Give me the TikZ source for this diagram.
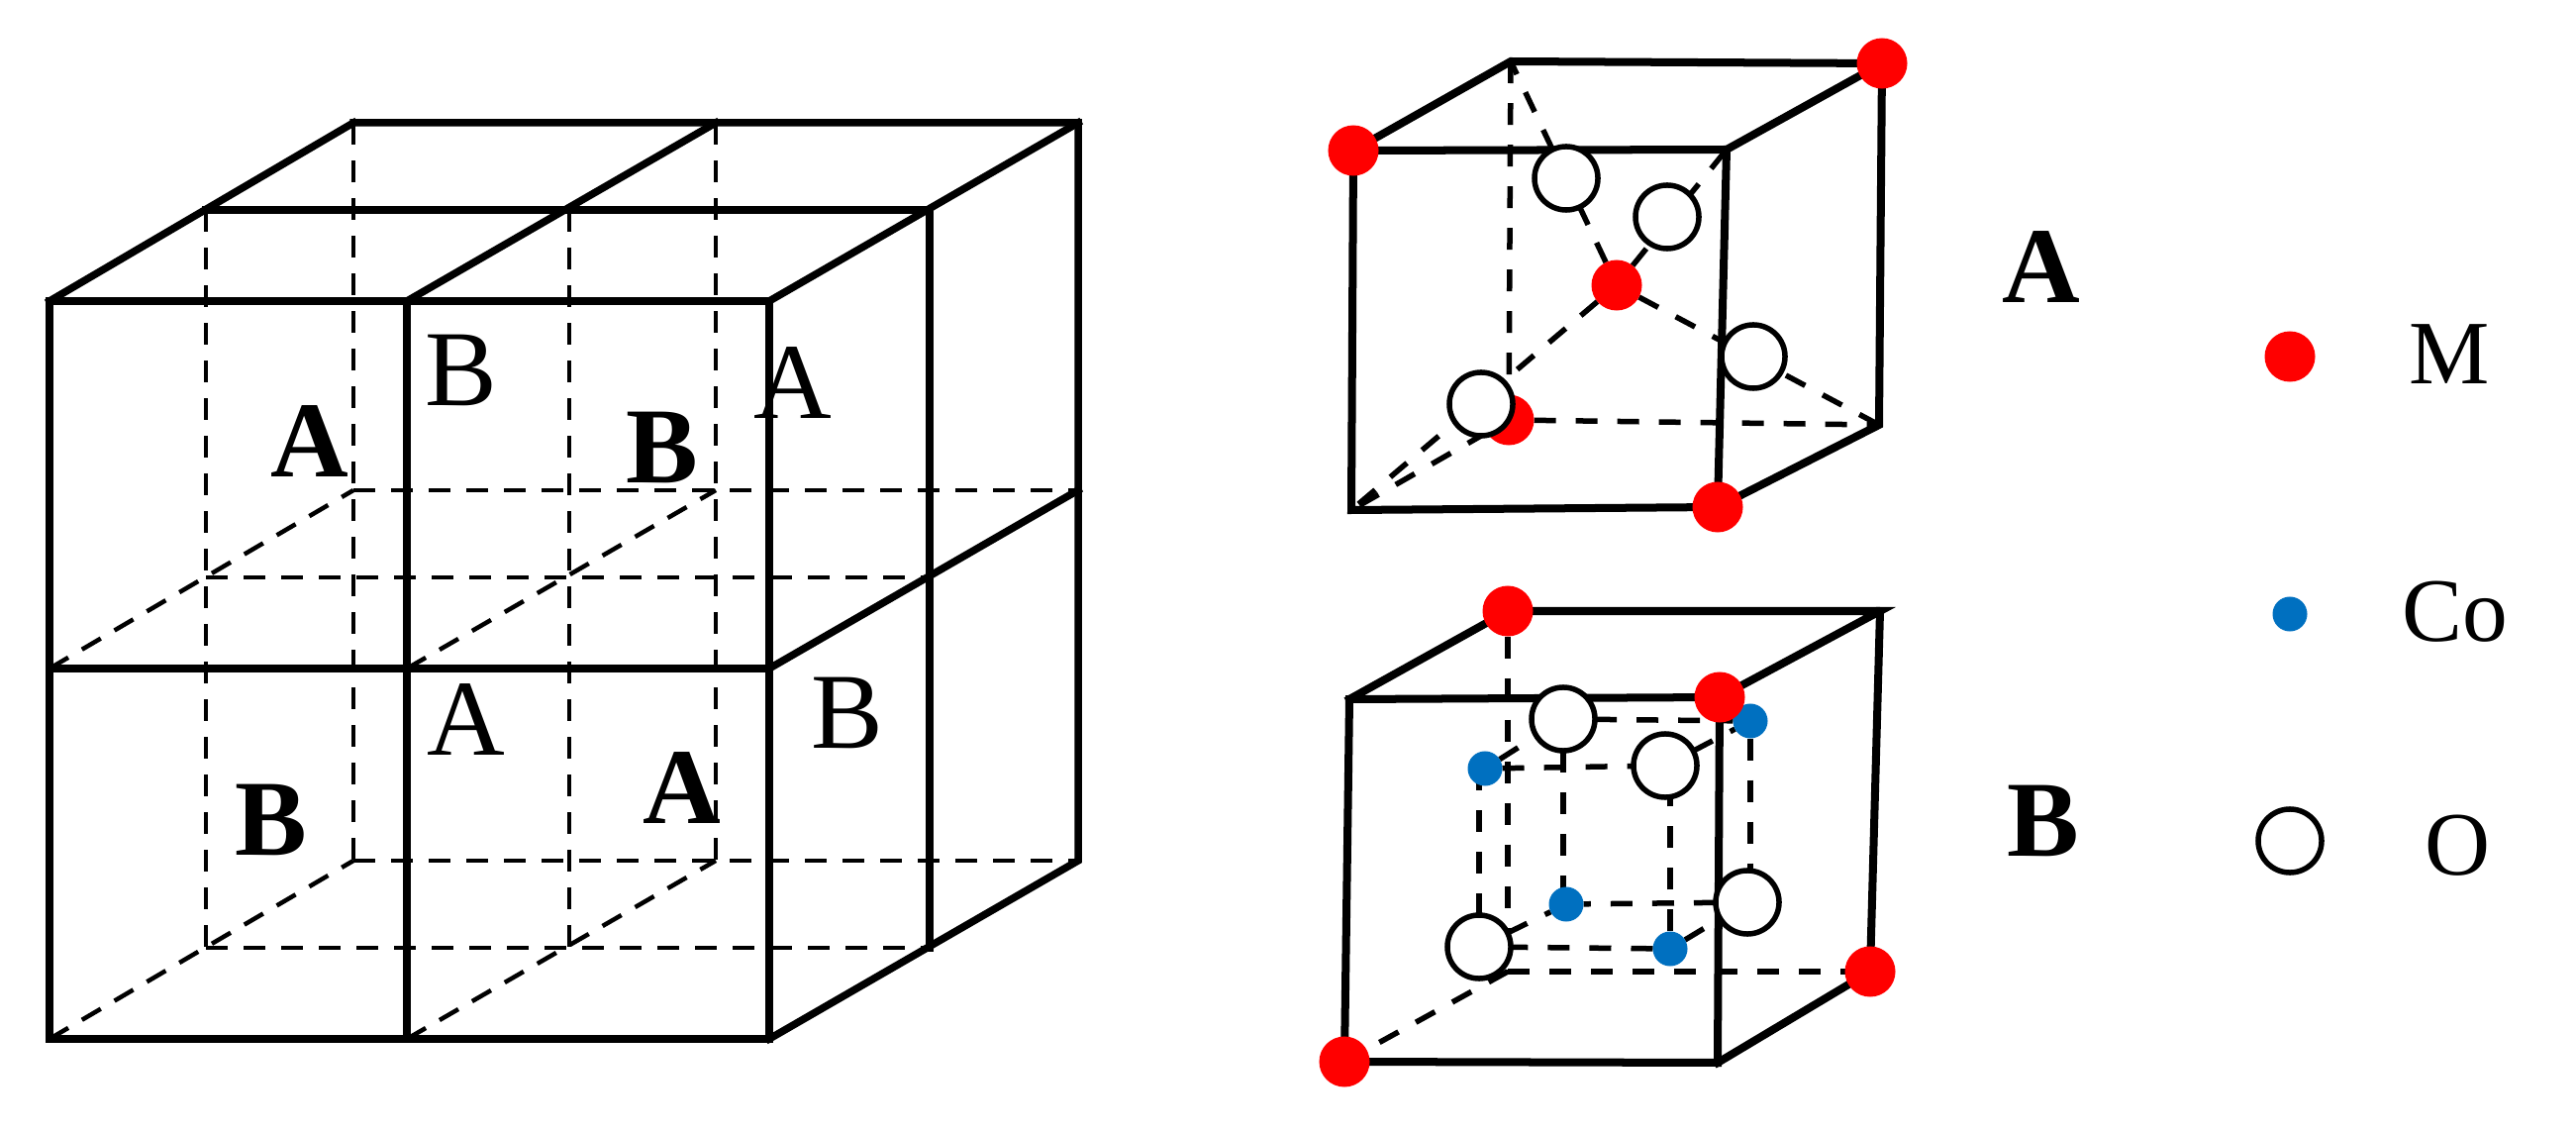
\documentclass[tikz,border=0pt]{standalone}
\usepackage{fontspec}
\setmainfont{Liberation Serif}
\usetikzlibrary{backgrounds}
\definecolor{Mred}{RGB}{255,0,0}
\definecolor{Coblue}{RGB}{0,112,192}
\tikzset{
  bigedge/.style={line width=0.075cm,line join=miter,line cap=rect},
  bighidden/.style={line width=0.045cm,dash pattern=on 0.22cm off 0.16cm},
  celledge/.style={line width=0.08cm,line join=miter,line cap=rect},
  cellhidden/.style={line width=0.055cm,dash pattern=on 0.22cm off 0.2cm},
  atomM/.style={circle,fill=Mred,inner sep=0pt,outer sep=0pt,minimum size=0.51cm},
  atomCo/.style={circle,fill=Coblue,inner sep=0pt,outer sep=0pt,minimum size=0.35cm},
  atomO/.style={circle,draw,fill=white,line width=0.055cm,inner sep=0pt,outer sep=0pt,minimum size=0.64cm},
  plainlabel/.style={inner sep=0pt,font=\fontsize{31}{34}\selectfont},
  boldlabel/.style={inner sep=0pt,font=\fontsize{31}{34}\selectfont\bfseries},
  keylabel/.style={inner sep=0pt,font=\fontsize{26}{30}\selectfont}
}
\newcommand{\drawbig}{\draw[bigedge]}
\newcommand{\drawbighidden}{\draw[bighidden]}
\newcommand{\drawcell}{\draw[celledge]}
\newcommand{\drawcellhidden}{\draw[cellhidden]}
\begin{document}
\begin{tikzpicture}[x=0.01cm,y=-0.01cm]
\useasboundingbox (0,0) rectangle (2602,1146);
\foreach \c/\x/\dx/\ddx in {0/50/158/307,1/411/164/312,2/777/162/312}{
  \foreach \r/\y in {t/304,m/675,b/1049}{
    \coordinate (g\c-\r-0) at (\x,\y);
    \coordinate (g\c-\r-1) at (\x+\dx,\y-92);
    \coordinate (g\c-\r-2) at (\x+\ddx,\y-180);
  }
}
\foreach \c in {0,1}{
  \foreach \d in {1,2}{
    \drawbighidden (g\c-t-\d)--(g\c-b-\d);
  }
  \drawbighidden (g\c-m-0)--(g\c-m-2);
  \drawbighidden (g\c-b-0)--(g\c-b-2);
}
\foreach \d in {1,2}{
  \drawbighidden (g0-m-\d)--(g2-m-\d);
  \drawbighidden (g0-b-\d)--(g2-b-\d);
}
\drawbig (g0-t-0)--(g2-t-0)--(g2-b-0)--(g0-b-0)--cycle;
\drawbig (g1-t-0)--(g1-b-0);
\drawbig (g0-m-0)--(g2-m-0);
\foreach \c in {0,1,2}{
  \drawbig (g\c-t-0)--(g\c-t-2);
}
\drawbig (g0-t-1)--(g2-t-1)--(g2-b-1);
\drawbig (g0-t-2)--(g2-t-2)--(g2-b-2)--(g2-b-0);
\drawbig (g2-m-0)--(g2-m-2);
\node[boldlabel] (bigA1) at (313,446) {A};
\node[boldlabel] (bigB1) at (669,452) {B};
\node[boldlabel] (bigB2) at (274,828) {B};
\node[boldlabel] (bigA2) at (689,796) {A};
\node[plainlabel] (bigB3) at (466,374) {B};
\node[plainlabel] (bigA3) at (801,387) {A};
\node[plainlabel] (bigA4) at (471,727) {A};
\node[plainlabel] (bigB4) at (856,720) {B};

\coordinate (aFTR) at (1744,151);
\coordinate (aFBL) at (1365,515);
\coordinate (aBTL) at (1526,62);
\coordinate (aBBR) at (1898,429);
\node[atomM] (aFTL) at (1367,152) {};
\node[atomM] (aBTR) at (1901,64) {};
\node[atomM] (aFBR) at (1735,512) {};
\node[atomM] (aBBL) at (1524,424) {};
\node[atomM] (aMid) at (1633,288) {};
\node[atomO] (aO1) at (1582,180) {};
\node[atomO] (aO2) at (1684,219) {};
\node[atomO] (aO3) at (1771,360) {};
\node[atomO] (aO4) at (1496,408) {};
\begin{scope}[on background layer]
\drawcell (aFTL.center)--(aFTR)--(aFBR.center)--(aFBL)--cycle;
\drawcell (aFTL.center)--(aBTL)--(aBTR.center)--(aFTR);
\drawcell (aBTR.center)--(aBBR)--(aFBR.center);
\drawcellhidden (aBTL)--(aBBL);
\drawcellhidden (aBBL)--(aBBR);
\drawcellhidden (aBBL)--(aFBL);
\foreach \e in {aBTL,aBBR,aFBL,aFTR}{
  \drawcellhidden (aMid)--(\e);
}
\end{scope}

\coordinate (bFTL) at (1363,706);
\coordinate (bFBR) at (1735,1073);
\coordinate (bBTR) at (1899,617);
\coordinate (bBBL) at (1523,981);
\node[atomCo] (bCo1) at (1500,776) {};
\node[atomCo] (bCo2) at (1768,728) {};
\node[atomCo] (bCo3) at (1582,913) {};
\node[atomCo] (bCo4) at (1687,958) {};
\node[atomM] (bBTL) at (1523,617) {};
\node[atomM] (bFTR) at (1737,704) {};
\node[atomM] (bBBR) at (1889,981) {};
\node[atomM] (bFBL) at (1358,1072) {};
\node[atomO] (bO1) at (1579,726) {};
\node[atomO] (bO2) at (1682,773) {};
\node[atomO] (bO3) at (1765,911) {};
\node[atomO] (bO4) at (1494,956) {};
\begin{scope}[on background layer]
\drawcell (bFTL)--(bFTR.center)--(bFBR)--(bFBL.center)--cycle;
\drawcell (bFTL)--(bBTL.center)--(bBTR)--(bFTR.center);
\drawcell (bBTR)--(bBBR.center)--(bFBR);
\drawcellhidden (bBTL)--(bBBL);
\drawcellhidden (bBBL)--(bBBR);
\drawcellhidden (bBBL)--(bFBL);
\foreach \s/\e in {bCo1/bO2,bCo4/bO4,bO1/bCo2,bO3/bCo3,bCo1/bO1,bO2/bCo2,bO4/bCo3,bCo4/bO3}{
  \drawcellhidden (\s)--(\e);
}
\drawcellhidden (bO4)--(bO4 |- bCo1);
\drawcellhidden (bCo4)--(bCo4 |- bO2);
\drawcellhidden (bO1)--(bO1 |- bCo3);
\drawcellhidden (bCo2)--(bCo2 |- bO3);
\end{scope}

\node[boldlabel] (cellA) at (2062,270) {A};
\node[boldlabel] (cellB) at (2064,829) {B};
\node[atomM] (keyM) at (2313,360) {};
\node[atomCo] (keyCo) at (2313,620) {};
\node[atomO] (keyO) at (2313,849) {};
\node[keylabel] (nameM) at (2474,358) {M};
\node[keylabel] (nameCo) at (2480,618) {Co};
\node[keylabel] (nameO) at (2482,854) {O};
\end{tikzpicture}
\end{document}
